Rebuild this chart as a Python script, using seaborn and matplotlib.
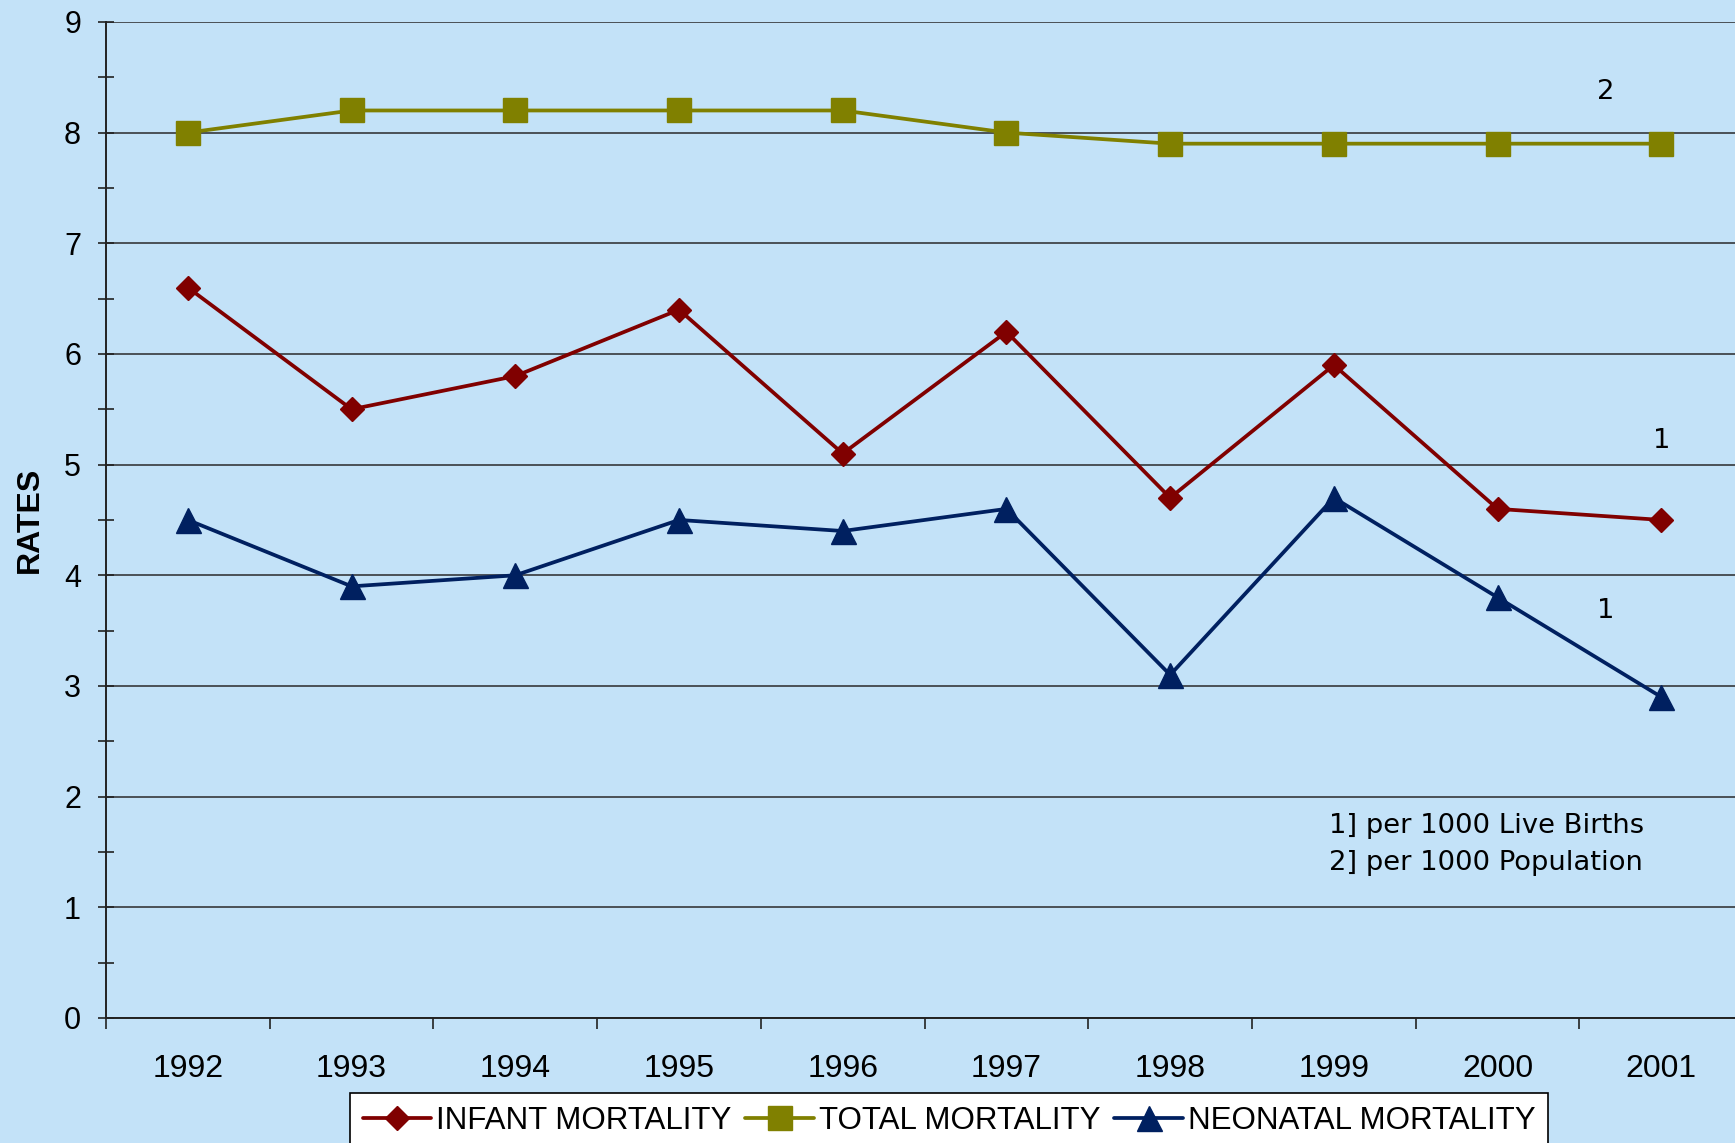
import numpy as np
import pandas as pd
import seaborn as sns
import matplotlib.pyplot as plt
from matplotlib.ticker import MultipleLocator, FixedLocator

# ----------------------------
# Data (rates)
# ----------------------------
years = [1992, 1993, 1994, 1995, 1996, 1997, 1998, 1999, 2000, 2001]
infant_mortality = [6.6, 5.5, 5.8, 6.4, 5.1, 6.2, 4.7, 5.9, 4.6, 4.5]
total_mortality = [8.0, 8.2, 8.2, 8.2, 8.2, 8.0, 7.9, 7.9, 7.9, 7.9]
neonatal_mortality = [4.5, 3.9, 4.0, 4.5, 4.4, 4.6, 3.1, 4.7, 3.8, 2.9]

series_names = ["INFANT MORTALITY", "TOTAL MORTALITY", "NEONATAL MORTALITY"]
colors = ["#800000", "#808000", "#002060"]
markers = ["D", "s", "^"]
marker_sizes = [12.5, 17, 18]

bg = "#C3E2F8"

sns.set_theme(style="white")
plt.rcParams["font.family"] = ["Liberation Sans", "DejaVu Sans"]
plt.rcParams["text.color"] = "black"
plt.rcParams["axes.labelcolor"] = "black"

df = pd.DataFrame({
    "year": years * 3,
    "rate": infant_mortality + total_mortality + neonatal_mortality,
    "series": np.repeat(series_names, len(years)),
})

fig = plt.figure(figsize=(17.35, 11.43), dpi=100, facecolor=bg)
ax = fig.add_axes([0.0611, 0.1094, 0.9389, 0.8714])
ax.set_facecolor(bg)

for name, c, m, ms in zip(series_names, colors, markers, marker_sizes):
    sub = df[df["series"] == name]
    sns.lineplot(data=sub, x="year", y="rate", ax=ax, color=c, linewidth=2.7,
                 marker=m, markersize=ms, markeredgecolor=c, markeredgewidth=1,
                 label=name, zorder=3)

ax.set_xlim(1991.5, 2001.45)
ax.set_ylim(0, 9)

# y axis: major gridlines + half-step minor ticks
ax.yaxis.set_major_locator(MultipleLocator(1))
ax.yaxis.set_minor_locator(MultipleLocator(0.5))
ax.grid(axis="y", which="major", color="#2a2a2a", linewidth=1.1, zorder=1)
ax.grid(axis="x", visible=False)
ax.tick_params(axis="y", which="both", direction="inout", length=12, width=1.2,
               colors="#222222", labelcolor="black", labelsize=22, pad=12, left=True)

# x axis: labels at years, ticks between categories
ax.xaxis.set_major_locator(FixedLocator(years))
ax.xaxis.set_minor_locator(FixedLocator([y + 0.5 for y in [1991] + years]))
ax.set_xticklabels([str(y) for y in years])
ax.tick_params(axis="x", which="major", length=0, labelsize=23, pad=26,
               labelcolor="black")
ax.tick_params(axis="x", which="minor", direction="out", length=8, width=1.2,
               colors="#222222", bottom=True)

for s in ["top", "right"]:
    ax.spines[s].set_visible(False)
for s in ["left", "bottom"]:
    ax.spines[s].set_color("#222222")
    ax.spines[s].set_linewidth(1.4)

ax.set_xlabel("")
ax.set_ylabel("RATES", fontsize=23, fontweight="bold", color="black")
ax.yaxis.set_label_coords(-0.0376, 0.5)

# footnote markers
note_font = dict(family=["DejaVu Sans"], fontsize=19.7, color="black")
ax.text(2000.66, 8.37, "2", ha="center", va="center", **note_font)
ax.text(2001.0, 5.21, "1", ha="center", va="center", **note_font)
ax.text(2000.66, 3.68, "1", ha="center", va="center", **note_font)
ax.text(1998.97, 1.565, "1] per 1000 Live Births\n2] per 1000 Population",
        ha="left", va="center", linespacing=1.55, **note_font)

leg = ax.legend(loc="upper center", bbox_to_anchor=(0.547, 0.0437),
                bbox_transform=fig.transFigure, ncol=3, fontsize=22.5,
                frameon=True, fancybox=False, handlelength=2.2,
                handletextpad=0.15, columnspacing=0.45, borderpad=0.4,
                borderaxespad=0)
leg.get_frame().set_edgecolor("black")
leg.get_frame().set_linewidth(1.2)
leg.get_frame().set_facecolor("white")
leg.get_frame().set_alpha(1)
for t in leg.get_texts():
    t.set_color("black")

fig.savefig("out.png", dpi=100, facecolor=bg)
